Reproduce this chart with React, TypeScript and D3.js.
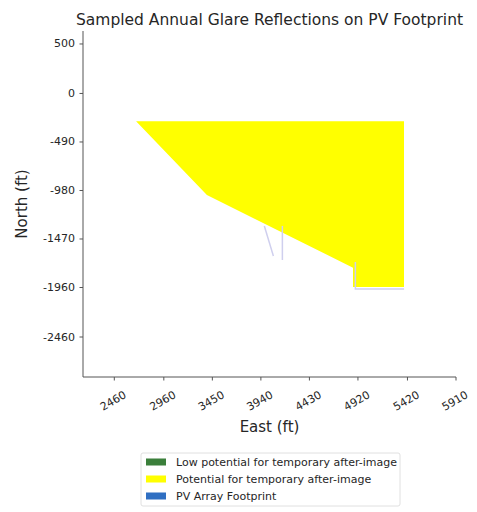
import React from "react";
import * as d3 from "d3";

// Axis ticks
const xTickValues = [2460, 2960, 3450, 3940, 4430, 4920, 5420, 5910];
const yTickValues = [500, 0, -490, -980, -1470, -1960, -2460];

// Glare (potential for temporary after-image) region, east/north in ft
const glareEast = [2680, 5385, 5385, 4870, 4870, 3395];
const glareNorth = [-280, -280, -1955, -1955, -1760, -1025];

// PV array footprint outlines (faint)
const footprint1East = [3975, 4066];
const footprint1North = [-1338, -1641];
const footprint2East = [4157, 4157];
const footprint2North = [-1338, -1682];
const footprint3East = [4894, 4894, 5386];
const footprint3North = [-1702, -1975, -1975];

// Legend
const legendLabels = [
  "Low potential for temporary after-image",
  "Potential for temporary after-image",
  "PV Array Footprint",
];
const legendColors = ["#3b7f3b", "#ffff00", "#2f6fc2"];

const W = 477;
const H = 512;
const FONT = "'DejaVu Sans', sans-serif";

export default function App() {
  const left = 83, right = 456, top = 31, bottom = 377;
  const x = d3.scaleLinear().domain([2144, 5910]).range([left, right]);
  const y = d3.scaleLinear().domain([631, -2864]).range([top, bottom]);

  const zip = (xs: number[], ys: number[]) => xs.map((v, i) => [v, ys[i]] as [number, number]);
  const line = d3.line<[number, number]>().x((d) => x(d[0])).y((d) => y(d[1]));
  const glarePath = line(zip(glareEast, glareNorth)) + "Z";
  const fps = [
    zip(footprint1East, footprint1North),
    zip(footprint2East, footprint2North),
    zip(footprint3East, footprint3North),
  ];

  const textColor = "#262626";
  const spineColor = "#555";

  return (
    <div style={{ position: "absolute", left: 0, top: 0 }}>
      <svg width={W} height={H} style={{ display: "block", background: "#fff" }} fontFamily={FONT}>
        <text x={(left + right) / 2} y={24.5} textAnchor="middle" fontSize={15.5} fill={textColor}>
          Sampled Annual Glare Reflections on PV Footprint
        </text>

        <path d={glarePath} fill="#ffff00" stroke="none" />
        {fps.map((p, i) => (
          <path key={i} d={line(p) || ""} fill="none" stroke="#cfcfee" strokeWidth={1.5} />
        ))}

        {/* spines */}
        <line x1={left} x2={left} y1={top} y2={bottom} stroke={spineColor} strokeWidth={1} />
        <line x1={left} x2={right} y1={bottom} y2={bottom} stroke={spineColor} strokeWidth={1} />

        {yTickValues.map((v) => (
          <g key={"y" + v}>
            <line x1={left - 3.5} x2={left} y1={y(v)} y2={y(v)} stroke={spineColor} />
            <text x={left - 8} y={y(v)} textAnchor="end" dominantBaseline="central" fontSize={11} fill={textColor}>
              {v}
            </text>
          </g>
        ))}
        {xTickValues.map((v) => (
          <g key={"x" + v}>
            <line x1={x(v)} x2={x(v)} y1={bottom} y2={bottom + 3.5} stroke={spineColor} />
            <text
              transform={`translate(${x(v) - 1},${bottom + 24}) rotate(-30)`}
              textAnchor="middle"
              dominantBaseline="central"
              fontSize={11}
              fill={textColor}
            >
              {v}
            </text>
          </g>
        ))}

        <text x={(left + right) / 2} y={432} textAnchor="middle" fontSize={15} fill={textColor}>
          East (ft)
        </text>
        <text
          transform={`translate(27,${(top + bottom) / 2}) rotate(-90)`}
          textAnchor="middle"
          fontSize={15}
          fill={textColor}
        >
          North (ft)
        </text>

        {/* legend */}
        <rect x={141} y={453} width={259} height={53} rx={2} fill="#fff" stroke="#e0e0e0" />
        {legendLabels.map((lab, i) => {
          const cy = 462 + i * 17;
          return (
            <g key={lab}>
              <rect x={146} y={cy - 3.5} width={20} height={7} fill={legendColors[i]} />
              <text x={176} y={cy} dominantBaseline="central" fontSize={11} fill={textColor}>
                {lab}
              </text>
            </g>
          );
        })}
      </svg>
    </div>
  );
}
